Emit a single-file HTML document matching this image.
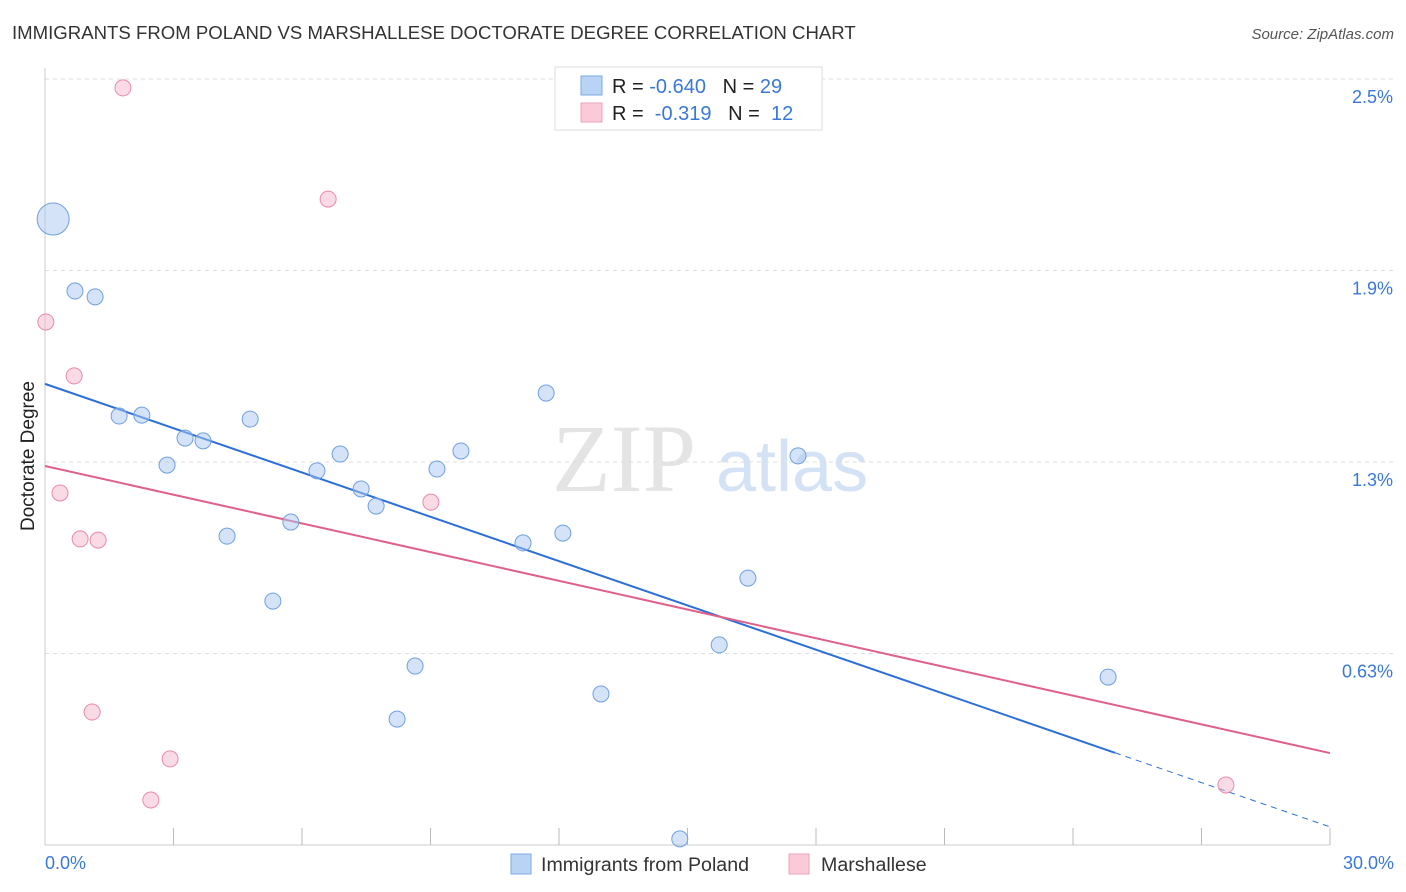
<!DOCTYPE html>
<html><head><meta charset="utf-8"><style>
body{margin:0;background:#fff;font-family:"Liberation Sans",sans-serif;}
svg{display:block}
</style></head><body>
<svg id="chart" width="1406" height="892" xmlns="http://www.w3.org/2000/svg">
<text x="12" y="39" font-size="18.6" fill="#333">IMMIGRANTS FROM POLAND VS MARSHALLESE DOCTORATE DEGREE CORRELATION CHART</text>
<text x="1394" y="39" font-size="15" fill="#555" font-style="italic" text-anchor="end">Source: ZipAtlas.com</text>
<g>
<text x="552" y="491" font-size="96" font-family="Liberation Serif,serif" fill="#e4e4e4">ZIP</text>
<text x="716" y="491" font-size="72" fill="#d4e2f6">atlas</text>
</g>
<g id="grid"></g>
<line x1="45" y1="68" x2="45" y2="845" stroke="#ccc"/>
<line x1="45" y1="845" x2="1330" y2="845" stroke="#ccc"/>
<g id="ticks"></g>
<text x="34" y="456" font-size="19" fill="#222" transform="rotate(-90 34 456)" text-anchor="middle">Doctorate Degree</text>
<text x="45" y="869" font-size="18" fill="#3a78d8">0.0%</text>
<text x="1394" y="869" font-size="18" fill="#3a78d8" text-anchor="end">30.0%</text>
<g id="lines"></g>
<g id="points"></g>
<g>
<rect x="555" y="67" width="267" height="63" fill="#fff" stroke="#ddd"/>
<rect x="581" y="76" width="21" height="19" fill="#b9d3f5" stroke="#7aa8e6"/>
<rect x="581" y="103" width="21" height="19" fill="#fbc9d8" stroke="#eea3bb"/>
<text x="612" y="93" font-size="20" fill="#222" xml:space="preserve">R = <tspan fill="#3a78d8">-0.640</tspan>   N = <tspan fill="#3a78d8">29</tspan></text>
<text x="612" y="120" font-size="20" fill="#222" xml:space="preserve">R =  <tspan fill="#3a78d8">-0.319</tspan>   N =  <tspan fill="#3a78d8">12</tspan></text>
</g>
<g>
<rect x="511" y="854" width="20" height="20" fill="#b9d3f5" stroke="#7aa8e6"/>
<text x="541" y="871" font-size="19.6" fill="#333">Immigrants from Poland</text>
<rect x="789" y="854" width="20" height="20" fill="#fbc9d8" stroke="#eea3bb"/>
<text x="821" y="871" font-size="19.6" fill="#333">Marshallese</text>
</g>
</svg>
<script>
const yTicks=[2.5,1.875,1.25,0.625];
const yTickLabels=["2.5%","1.9%","1.3%","0.63%"];
const polandX=[0.19,0.70,1.17,1.73,2.26,2.85,3.27,3.69,4.25,4.79,5.32,5.74,6.35,6.89,7.38,7.73,8.22,8.64,9.15,9.71,11.16,11.70,12.09,12.98,14.82,15.74,16.41,17.58,24.82];
const polandY=[2.043,1.808,1.789,1.400,1.403,1.240,1.328,1.319,1.008,1.390,0.796,1.054,1.221,1.276,1.162,1.106,0.411,0.584,1.227,1.286,0.986,1.475,1.018,0.493,0.020,0.653,0.871,1.270,0.548];
const polandSize=[3,1,1,1,1,1,1,1,1,1,1,1,1,1,1,1,1,1,1,1,1,1,1,1,1,1,1,1,1];
const marshX=[1.82,6.61,0.02,0.68,0.35,0.82,1.24,9.01,1.10,2.92,2.47,27.57];
const marshY=[2.471,2.108,1.707,1.531,1.149,0.999,0.995,1.119,0.434,0.281,0.147,0.196];
const polandTrend=[1.505,0.059];
const polandTrendSolidEnd=24.98;
const marshTrend=[1.237,0.300];
const NS="http://www.w3.org/2000/svg";
const xS=v=>45+v/30*1285;
const yS=v=>845-v/2.5*766;
function mk(t,a,p){const e=document.createElementNS(NS,t);for(const k in a)e.setAttribute(k,a[k]);p.appendChild(e);return e;}
const grid=document.getElementById('grid');
yTicks.forEach((t,i)=>{
 const l=mk('line',{x1:45,x2:1394,y1:yS(t),y2:yS(t),stroke:'#ddd','stroke-dasharray':'4,4'},grid);
 
 
 const tx=mk('text',{x:1393,y:yS(t)+24,'font-size':18,fill:'#3a78d8','text-anchor':'end'},grid);
 tx.textContent=yTickLabels[i];
 
 
});
const ticks=document.getElementById('ticks');
for(let i=1;i<=10;i++){
 const l=mk('line',{x1:xS(i*3),x2:xS(i*3),y1:828,y2:845,stroke:'#bbb'},ticks);
 
 
}
const lines=document.getElementById('lines');
const tl=(a,x)=>a[0]+(a[1]-a[0])*x/30;
let l1=mk('line',{x1:xS(0),y1:yS(tl(polandTrend,0)),x2:xS(polandTrendSolidEnd),y2:yS(tl(polandTrend,polandTrendSolidEnd)),stroke:'#2d6fd8','stroke-width':2},lines);


let l2=mk('line',{x1:xS(polandTrendSolidEnd),y1:yS(tl(polandTrend,polandTrendSolidEnd)),x2:xS(30),y2:yS(tl(polandTrend,30)),stroke:'#2d6fd8','stroke-width':1,'stroke-dasharray':'6,5'},lines);


let l3=mk('line',{x1:xS(0),y1:yS(tl(marshTrend,0)),x2:xS(30),y2:yS(tl(marshTrend,30)),stroke:'#e0608a','stroke-width':2},lines);


const pts=document.getElementById('points');
polandX.forEach((x,i)=>{
 const c=mk('circle',{cx:xS(x),cy:yS(polandY[i]),r:polandSize[i]>1?16:8,fill:'rgba(169,200,240,0.5)',stroke:'#6fa0e0','stroke-width':1},pts);
 
 
});
marshX.forEach((x,i)=>{
 const c=mk('circle',{cx:xS(x),cy:yS(marshY[i]),r:8,fill:'rgba(246,184,203,0.5)',stroke:'#e88aa8','stroke-width':1},pts);
 
 
});
</script>
</body></html>
